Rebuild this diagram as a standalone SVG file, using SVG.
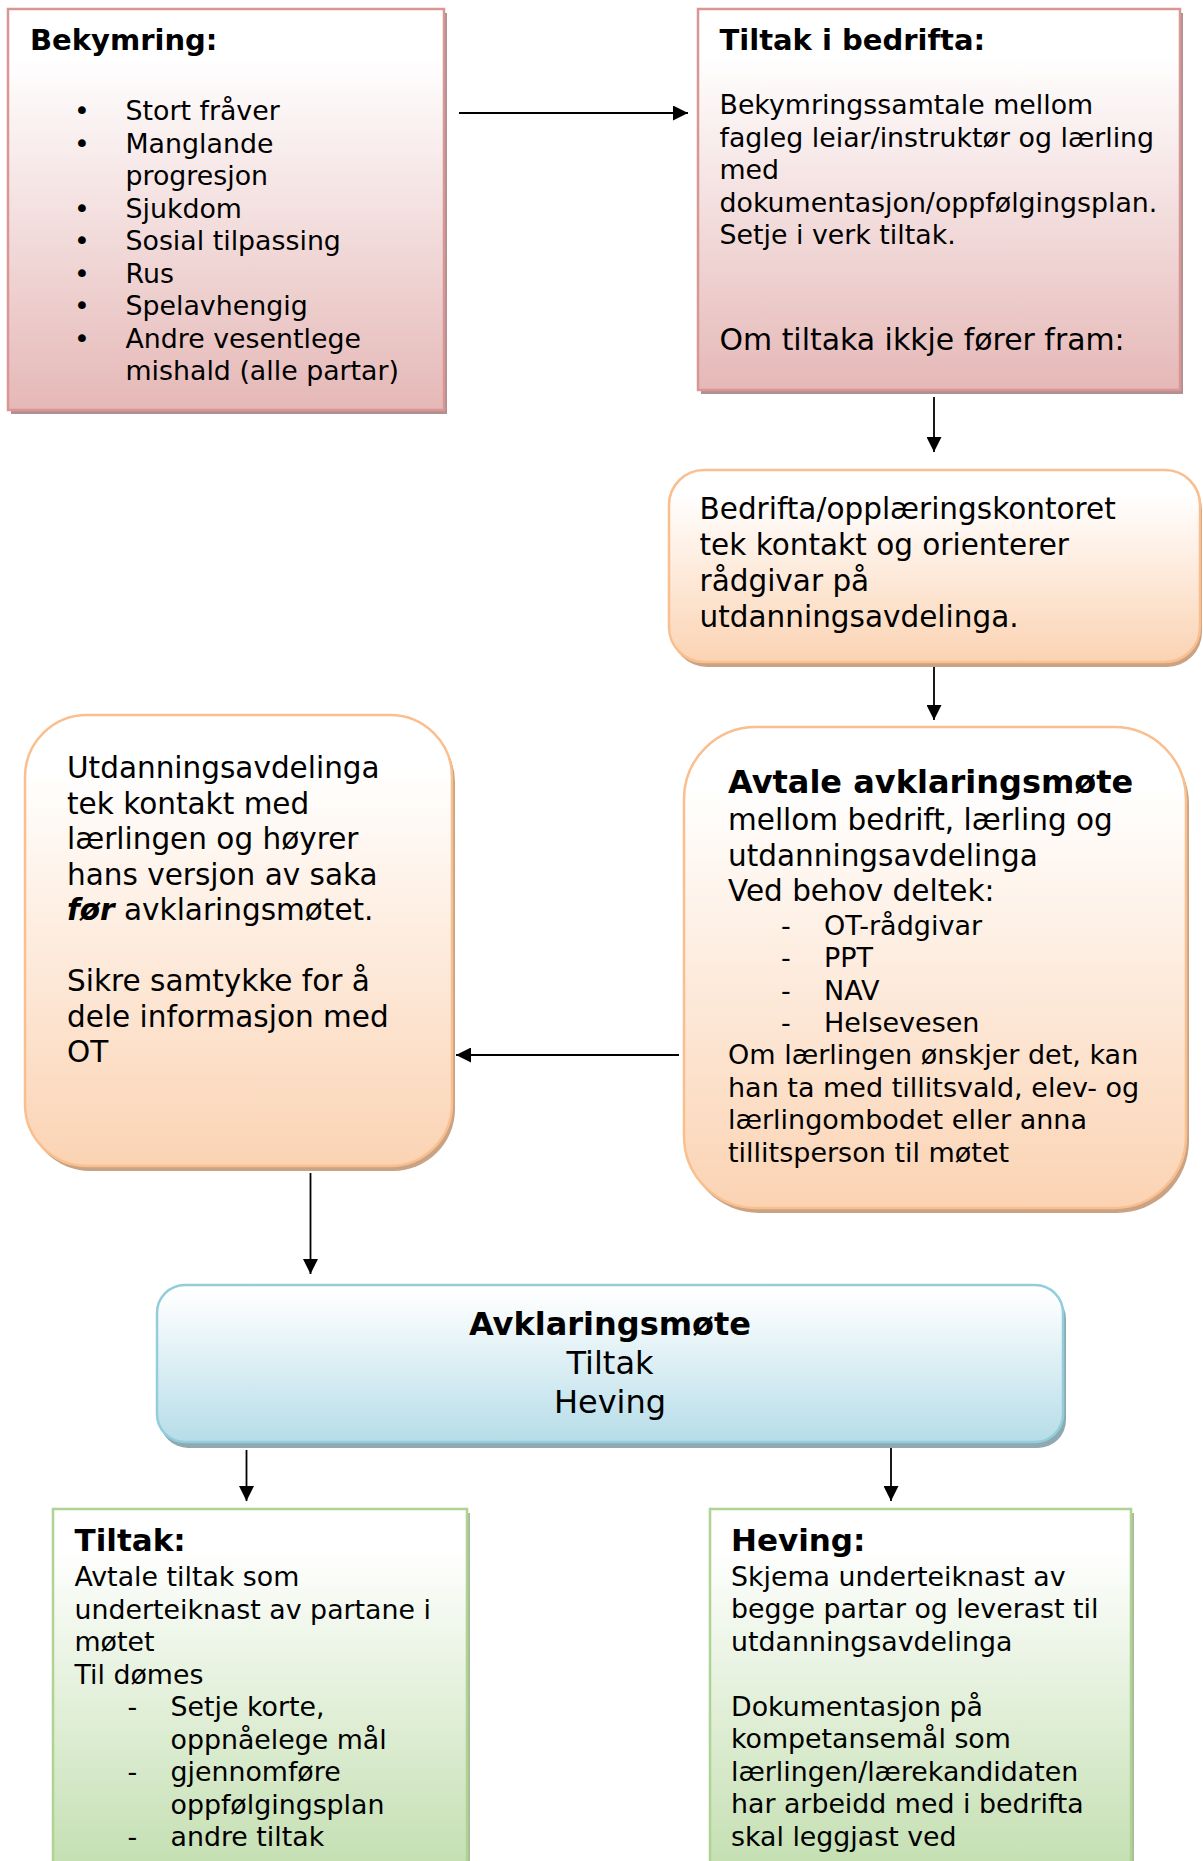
<svg xmlns="http://www.w3.org/2000/svg" width="1203" height="1861" viewBox="0 0 1203 1861">
<defs>
<linearGradient id="gRed" x1="0" y1="0" x2="0" y2="1"><stop offset="0" stop-color="#ffffff"/><stop offset="0.12" stop-color="#ffffff"/><stop offset="1" stop-color="#e5b8b7"/></linearGradient>
<linearGradient id="gOrange" x1="0" y1="0" x2="0" y2="1"><stop offset="0" stop-color="#ffffff"/><stop offset="0.12" stop-color="#ffffff"/><stop offset="1" stop-color="#fbd3b3"/></linearGradient>
<linearGradient id="gBlue" x1="0" y1="0" x2="0" y2="1"><stop offset="0" stop-color="#ffffff"/><stop offset="0.1" stop-color="#fbfdfe"/><stop offset="1" stop-color="#b6dde8"/></linearGradient>
<linearGradient id="gGreen" x1="0" y1="0" x2="0" y2="1"><stop offset="0" stop-color="#ffffff"/><stop offset="0.1" stop-color="#ffffff"/><stop offset="1" stop-color="#c2deaf"/></linearGradient>
<marker id="arr" markerUnits="userSpaceOnUse" markerWidth="15" markerHeight="15" refX="15" refY="7.5" orient="auto"><path d="M0,0 L15,7.5 L0,15 z" fill="#000"/></marker>
</defs>
<style>
text{font-family:"DejaVu Sans",Verdana,sans-serif;fill:#000}
.b{font-weight:bold}
.s{font-size:26.8px}
.m{font-size:29.5px}
.red{fill:url(#gRed);stroke:#d99694;stroke-width:2.5}
.org{fill:url(#gOrange);stroke:#fabf8f;stroke-width:2.5}
.blu{fill:url(#gBlue);stroke:#92cddc;stroke-width:2.5}
.grn{fill:url(#gGreen);stroke:#b0d394;stroke-width:2.5}
.shr{fill:#b09090}
.sho{fill:#c9a384}
.shb{fill:#8ea9b1}
.shg{fill:#a9bb9d}
.con{stroke:#000;stroke-width:1.8;fill:none;marker-end:url(#arr)}
</style>
<rect width="1203" height="1861" fill="#fff"/>

<g id="bekymring">
<rect class="shr" x="11" y="13" width="436" height="401"/>
<rect class="red" x="8" y="9" width="436" height="401"/>
<text class="b" x="30" y="50" font-size="29">Bekymring:</text>
<g class="s">
<text x="82" y="120" text-anchor="middle">•</text>
<text x="82" y="152.5" text-anchor="middle">•</text>
<text x="82" y="217.5" text-anchor="middle">•</text>
<text x="82" y="250" text-anchor="middle">•</text>
<text x="82" y="282.5" text-anchor="middle">•</text>
<text x="82" y="315" text-anchor="middle">•</text>
<text x="82" y="347.5" text-anchor="middle">•</text>
<text x="125.5" y="120">Stort fråver</text>
<text x="125.5" y="152.5">Manglande</text>
<text x="125.5" y="185">progresjon</text>
<text x="125.5" y="217.5">Sjukdom</text>
<text x="125.5" y="250">Sosial tilpassing</text>
<text x="125.5" y="282.5">Rus</text>
<text x="125.5" y="315">Spelavhengig</text>
<text x="125.5" y="347.5">Andre vesentlege</text>
<text x="125.5" y="380">mishald (alle partar)</text>
</g>
</g>

<g id="tiltak-bedrifta">
<rect class="shr" x="701" y="13" width="482" height="381"/>
<rect class="red" x="698" y="9" width="482" height="381"/>
<text class="b" x="719.5" y="50" font-size="29">Tiltak i bedrifta:</text>
<g class="s">
<text x="719.5" y="114">Bekymringssamtale mellom</text>
<text x="719.5" y="146.5">fagleg leiar/instruktør og lærling</text>
<text x="719.5" y="179">med</text>
<text x="719.5" y="211.5">dokumentasjon/oppfølgingsplan.</text>
<text x="719.5" y="244">Setje i verk tiltak.</text>
</g>
<text x="719.5" y="350" font-size="29.9">Om tiltaka ikkje fører fram:</text>
</g>

<g id="kontakt-radgivar">
<rect class="sho" x="672" y="475" width="530" height="192" rx="35"/>
<rect class="org" x="669" y="470" width="531" height="192" rx="35"/>
<g class="m">
<text x="699.5" y="519">Bedrifta/opplæringskontoret</text>
<text x="699.5" y="555">tek kontakt og orienterer</text>
<text x="699.5" y="591">rådgivar på</text>
<text x="699.5" y="627">utdanningsavdelinga.</text>
</g>
</g>

<g id="avtale-mote">
<rect class="sho" x="687" y="732" width="502" height="481" rx="72"/>
<rect class="org" x="684" y="727" width="502" height="481" rx="72"/>
<text class="b" x="728" y="793" font-size="32">Avtale avklaringsmøte</text>
<g font-size="29.5">
<text x="728" y="830">mellom bedrift, lærling og</text>
<text x="728" y="865.5">utdanningsavdelinga</text>
<text x="728" y="901">Ved behov deltek:</text>
</g>
<g font-size="27">
<text x="781" y="935">-</text>
<text x="781" y="967">-</text>
<text x="781" y="999.5">-</text>
<text x="781" y="1032">-</text>
<text x="824" y="935">OT-rådgivar</text>
<text x="824" y="967">PPT</text>
<text x="824" y="999.5">NAV</text>
<text x="824" y="1032">Helsevesen</text>
<text x="728" y="1064">Om lærlingen ønskjer det, kan</text>
<text x="728" y="1096.5">han ta med tillitsvald, elev- og</text>
<text x="728" y="1129">lærlingombodet eller anna</text>
<text x="728" y="1161.5">tillitsperson til møtet</text>
</g>
</g>

<g id="utdanning-kontakt">
<rect class="sho" x="28" y="720" width="427" height="451" rx="62"/>
<rect class="org" x="25" y="715" width="427" height="451" rx="62"/>
<g class="m">
<text x="67" y="778">Utdanningsavdelinga</text>
<text x="67" y="813.5">tek kontakt med</text>
<text x="67" y="849">lærlingen og høyrer</text>
<text x="67" y="884.5">hans versjon av saka</text>
<text x="67" y="920"><tspan font-weight="bold" font-style="italic">før</tspan> avklaringsmøtet.</text>
<text x="67" y="991">Sikre samtykke for å</text>
<text x="67" y="1026.5">dele informasjon med</text>
<text x="67" y="1062">OT</text>
</g>
</g>

<g id="avklaringsmote">
<rect class="shb" x="160" y="1291" width="906" height="157" rx="28"/>
<rect class="blu" x="157" y="1285" width="906" height="157" rx="28"/>
<g font-size="32" text-anchor="middle">
<text class="b" x="610" y="1335">Avklaringsmøte</text>
<text x="610" y="1374">Tiltak</text>
<text x="610" y="1413">Heving</text>
</g>
</g>

<g id="tiltak">
<rect class="shg" x="56" y="1513" width="414" height="370"/>
<rect class="grn" x="53" y="1509" width="414" height="370"/>
<text class="b" x="74.5" y="1551" font-size="31">Tiltak:</text>
<g class="s">
<text x="74.5" y="1586">Avtale tiltak som</text>
<text x="74.5" y="1618.5">underteiknast av partane i</text>
<text x="74.5" y="1651">møtet</text>
<text x="74.5" y="1683.5">Til dømes</text>
<text x="127.5" y="1716">-</text>
<text x="127.5" y="1781">-</text>
<text x="127.5" y="1846">-</text>
<text x="170.5" y="1716">Setje korte,</text>
<text x="170.5" y="1748.5">oppnåelege mål</text>
<text x="170.5" y="1781">gjennomføre</text>
<text x="170.5" y="1813.5">oppfølgingsplan</text>
<text x="170.5" y="1846">andre tiltak</text>
</g>
</g>

<g id="heving">
<rect class="shg" x="713" y="1513" width="421" height="370"/>
<rect class="grn" x="710" y="1509" width="421" height="370"/>
<text class="b" x="731" y="1551" font-size="31">Heving:</text>
<g class="s">
<text x="731" y="1585.5">Skjema underteiknast av</text>
<text x="731" y="1618">begge partar og leverast til</text>
<text x="731" y="1650.5">utdanningsavdelinga</text>
<text x="731" y="1715.5">Dokumentasjon på</text>
<text x="731" y="1748">kompetansemål som</text>
<text x="731" y="1780.5">lærlingen/lærekandidaten</text>
<text x="731" y="1813">har arbeidd med i bedrifta</text>
<text x="731" y="1845.5">skal leggjast ved</text>
</g>
</g>

<g id="connectors">
<path class="con" d="M459,113 H688"/>
<path class="con" d="M934,397 V452"/>
<path class="con" d="M934,667 V720"/>
<path class="con" d="M679,1055 H456"/>
<path class="con" d="M310.5,1173 V1274"/>
<path class="con" d="M246.5,1450 V1501"/>
<path class="con" d="M891,1448 V1501"/>
</g>
</svg>
